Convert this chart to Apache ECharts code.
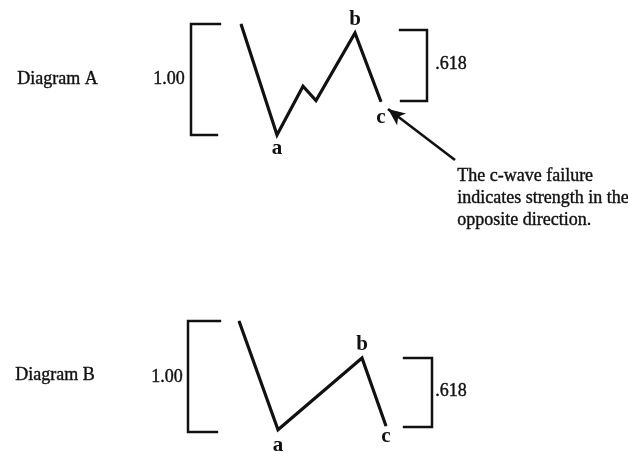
<!DOCTYPE html>
<html>
<head>
<meta charset="utf-8">
<script src="https://cdn.jsdelivr.net/npm/echarts@6/dist/echarts.min.js"></script>
<style>html,body{margin:0;padding:0;background:#fff;}#c{width:628px;height:452px;}</style>
</head>
<body>
<div id="c"></div>
<script>
// ---- data (time units on x, fraction of the 1.00 swing on y) ----
const waveA = [[9.1, 1.0], [12.7, 0.0], [15.3, 0.44], [16.6, 0.31], [20.5, 0.92], [23.1, 0.30]];
const waveALabels = ['', 'a', '', '', 'b', 'c'];
const bracketLeftA = [[7.1, 1.0], [4.1, 1.0], [4.1, 0.0], [6.8, 0.0]];
const bracketRightA = [[24.9, 0.946], [27.7, 0.946], [27.7, 0.306], [25.0, 0.306]];
const arrowA = [[30.5, -0.225], [23.8, 0.234]];

const waveB = [[8.9, 1.0], [12.8, 0.02], [21.2, 0.667], [23.6, 0.054]];
const waveBLabels = ['', 'a', 'b', 'c'];
const bracketLeftB = [[7.1, 1.0], [3.8, 1.0], [3.8, 0.0], [6.8, 0.0]];
const bracketRightB = [[25.3, 0.667], [28.2, 0.667], [28.2, 0.045], [25.3, 0.045]];

const diagramNames = ['Diagram A', 'Diagram B'];
const rangeLabels = ['1.00', '.618'];
const noteLines = ['The c-wave failure', 'indicates strength in the', 'opposite direction.'];

// ---- chart ----
const FONT = '"Liberation Serif", "DejaVu Serif", serif';
const INK = '#111';
const labelPos = { a: ['bottom', 3], b: ['top', 2], c: ['bottom', 4] };

function waveData(pts, labels, overrides) {
  return pts.map((p, i) => {
    const l = labels[i];
    if (!l) return { value: p };
    const pos = (overrides && overrides[l]) || labelPos[l];
    return {
      value: p,
      label: { show: true, formatter: l, position: pos[0], distance: pos[1],
        fontFamily: FONT, fontSize: 21, color: INK, fontWeight: 'bold', opacity: 1 }
    };
  });
}
function lineSeries(data, gi, width, extra) {
  return Object.assign({
    type: 'line', xAxisIndex: gi, yAxisIndex: gi, data: data,
    symbol: 'circle', symbolSize: 1, showSymbol: true, showAllSymbol: true,
    clip: false, silent: true, animation: false,
    itemStyle: { color: INK },
    lineStyle: { color: INK, width: width, cap: 'butt', join: 'miter' }
  }, extra || {});
}
const axisCommon = { show: false, splitLine: { show: false } };
const textStyle = (s) => ({ text: s, font: '18px ' + FONT, fill: INK, stroke: INK, lineWidth: 0.4 });

const option = {
  animation: false,
  backgroundColor: '#ffffff',
  grid: [
    { left: 150, width: 320, top: 24, height: 144.3 },
    { left: 150, width: 320, top: 321, height: 111 }
  ],
  xAxis: [
    Object.assign({ type: 'value', gridIndex: 0, min: 0, max: 32 }, axisCommon),
    Object.assign({ type: 'value', gridIndex: 1, min: 0, max: 32 }, axisCommon)
  ],
  yAxis: [
    Object.assign({ type: 'value', gridIndex: 0, min: -0.3, max: 1 }, axisCommon),
    Object.assign({ type: 'value', gridIndex: 1, min: 0, max: 1 }, axisCommon)
  ],
  series: [
    lineSeries(bracketLeftA, 0, 2.5),
    lineSeries(bracketRightA, 0, 2.5),
    lineSeries(waveData(waveA, waveALabels, { c: ['bottom', 5] }), 0, 3.2, {
      markLine: {
        silent: true, animation: false,
        symbol: ['none', 'arrow'], symbolSize: [11, 17],
        label: { show: false },
        lineStyle: { color: INK, width: 2.6, type: 'solid' },
        data: [[{ coord: arrowA[0] }, { coord: arrowA[1] }]]
      }
    }),
    lineSeries(bracketLeftB, 1, 2.5),
    lineSeries(bracketRightB, 1, 2.5),
    lineSeries(waveData(waveB, waveBLabels, { a: ['bottom', 5], c: ['bottom', 0] }), 1, 3.2)
  ],
  graphic: [
    { type: 'text', left: 17, top: 70, style: textStyle(diagramNames[0]) },
    { type: 'text', left: 153, top: 70, style: textStyle(rangeLabels[0]) },
    { type: 'text', left: 435, top: 55, style: textStyle(rangeLabels[1]) },
    { type: 'text', left: 15, top: 366, style: textStyle(diagramNames[1]) },
    { type: 'text', left: 151, top: 368, style: textStyle(rangeLabels[0]) },
    { type: 'text', left: 435, top: 382, style: textStyle(rangeLabels[1]) },
    { type: 'text', left: 457, top: 165, style: Object.assign(textStyle(noteLines.join('\n')), { lineHeight: 22 }) }
  ]
};
const chart = echarts.init(document.getElementById('c'), null, { renderer: 'canvas' });
chart.setOption(option);
</script>
</body>
</html>
